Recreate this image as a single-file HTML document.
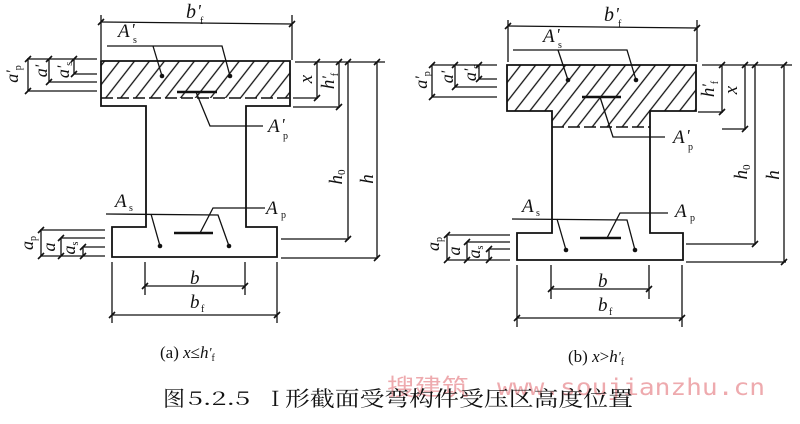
<!DOCTYPE html>
<html><head><meta charset="utf-8"><style>
html,body{margin:0;padding:0;background:#fff;}
svg{display:block;}
text{font-family:"Liberation Serif","Noto Serif CJK SC",serif;fill:#111;}
.i{font-style:italic;}
</style></head><body>
<svg width="800" height="424" viewBox="0 0 800 424" xmlns="http://www.w3.org/2000/svg">
<defs>
<pattern id="h" patternUnits="userSpaceOnUse" width="11.8" height="11.8" patternTransform="rotate(38)">
<line x1="2" y1="0" x2="2" y2="11.8" stroke="#111" stroke-width="1.3"/>
</pattern>
</defs>

<!-- ============ (a) ============ -->
<rect x="101" y="61" width="189" height="37" fill="url(#h)"/>
<line x1="101" y1="98" x2="290" y2="98" stroke="#111" stroke-width="1.4" stroke-dasharray="12,4"/>
<path d="M101,61 H290 V106 H246 V227 H277 V257 H112 V227 H146 V106 H101 Z" fill="none" stroke="#111" stroke-width="1.8"/>

<g stroke="#111" stroke-width="1.3" fill="none">
<polyline points="107,46 222,46 230,76"/>
<line x1="153" y1="46" x2="162" y2="76"/>
<polyline points="196,92 210,126 263,126"/>
<polyline points="106,214 218,215 229,246"/>
<line x1="151" y1="214" x2="160" y2="246"/>
<polyline points="200,233 213,208 265,208"/>
<line x1="101" y1="15" x2="101" y2="60"/>
<line x1="292" y1="15" x2="292" y2="60"/>
<line x1="101" y1="22" x2="292" y2="24"/>
<line x1="27" y1="59" x2="97" y2="59"/>
<line x1="74" y1="74" x2="97" y2="74"/>
<line x1="49" y1="82" x2="97" y2="82"/>
<line x1="27" y1="91" x2="97" y2="91"/>
<line x1="28" y1="59" x2="28" y2="91"/>
<line x1="49" y1="59" x2="49" y2="82"/>
<line x1="74" y1="59" x2="74" y2="74"/>
<line x1="295" y1="62" x2="385" y2="62"/>
<line x1="293" y1="98" x2="318" y2="98"/>
<line x1="293" y1="107" x2="340" y2="107"/>
<line x1="281" y1="239" x2="349" y2="239"/>
<line x1="281" y1="258" x2="378" y2="258"/>
<line x1="317" y1="62" x2="317" y2="98"/>
<line x1="339" y1="62" x2="339" y2="107"/>
<line x1="348" y1="62" x2="348" y2="239"/>
<line x1="377" y1="62" x2="377" y2="258"/>
<line x1="40" y1="230" x2="105" y2="230"/>
<line x1="61" y1="238" x2="105" y2="238"/>
<line x1="83" y1="247" x2="105" y2="247"/>
<line x1="40" y1="256" x2="105" y2="256"/>
<line x1="41" y1="230" x2="41" y2="256"/>
<line x1="61" y1="238" x2="61" y2="256"/>
<line x1="83" y1="247" x2="83" y2="256"/>
<line x1="145" y1="262" x2="145" y2="295"/>
<line x1="245" y1="262" x2="245" y2="295"/>
<line x1="145" y1="286" x2="245" y2="286"/>
<line x1="112" y1="262" x2="112" y2="323"/>
<line x1="277" y1="262" x2="277" y2="323"/>
<line x1="112" y1="315" x2="277" y2="315"/>
<path d="M98,25 l6,-6 M289,27 l6,-6
M25,62 l6,-6 M25,94 l6,-6 M46,62 l6,-6 M46,85 l6,-6 M71,62 l6,-6 M71,77 l6,-6
M314,65 l6,-6 M314,101 l6,-6 M336,65 l6,-6 M336,110 l6,-6 M345,65 l6,-6 M345,242 l6,-6 M374,65 l6,-6 M374,261 l6,-6
M38,233 l6,-6 M38,259 l6,-6 M58,241 l6,-6 M58,259 l6,-6 M80,250 l6,-6 M80,259 l6,-6
M142,289 l6,-6 M242,289 l6,-6 M109,318 l6,-6 M274,318 l6,-6" stroke-width="1.6"/>
</g>
<g fill="#111">
<circle cx="162" cy="76" r="2.3"/><circle cx="230" cy="76" r="2.3"/>
<circle cx="160" cy="246" r="2.3"/><circle cx="229" cy="246" r="2.3"/>
</g>
<line x1="177" y1="92" x2="217" y2="92" stroke="#111" stroke-width="2.6"/>
<line x1="174" y1="233" x2="213" y2="233" stroke="#111" stroke-width="2.6"/>

<!-- labels (a) -->
<text class="i" x="186" y="18" font-size="20">b</text><text class="i" x="197" y="17" font-size="18">'</text><text x="200" y="24" font-size="10">f</text>
<text class="i" x="118" y="37" font-size="19">A</text><text class="i" x="131" y="35" font-size="17">'</text><text x="133" y="43" font-size="10">s</text>
<text class="i" x="268" y="132" font-size="19">A</text><text class="i" x="281" y="130" font-size="17">'</text><text x="283" y="139" font-size="10">p</text>
<text class="i" x="115" y="207" font-size="19">A</text><text x="129" y="211" font-size="10">s</text>
<text class="i" x="266" y="214" font-size="19">A</text><text x="281" y="218" font-size="10">p</text>
<text class="i" x="190" y="284" font-size="19">b</text>
<text class="i" x="190" y="308" font-size="19">b</text><text x="201" y="312" font-size="10">f</text>

<g transform="translate(307,79) rotate(-90)"><text class="i" text-anchor="middle" y="5" font-size="19">x</text></g>
<g transform="translate(328,81) rotate(-90)"><text text-anchor="middle" y="6" font-size="19"><tspan class="i">h</tspan><tspan class="i" font-size="16" dy="-1">'</tspan><tspan font-size="10" dy="5">f</tspan></text></g>
<g transform="translate(336,177) rotate(-90)"><text text-anchor="middle" y="6" font-size="19"><tspan class="i">h</tspan><tspan font-size="11" dy="3">0</tspan></text></g>
<g transform="translate(367,179) rotate(-90)"><text class="i" text-anchor="middle" y="6" font-size="19">h</text></g>
<g transform="translate(13,74) rotate(-90)"><text text-anchor="middle" y="5" font-size="18"><tspan class="i">a</tspan><tspan class="i" font-size="16" dy="-1">'</tspan><tspan font-size="10" dy="4">p</tspan></text></g>
<g transform="translate(42,71) rotate(-90)"><text text-anchor="middle" y="5" font-size="18"><tspan class="i">a</tspan><tspan class="i" font-size="16" dy="-1">'</tspan></text></g>
<g transform="translate(64,70) rotate(-90)"><text text-anchor="middle" y="5" font-size="18"><tspan class="i">a</tspan><tspan class="i" font-size="16" dy="-1">'</tspan><tspan font-size="10" dy="4">s</tspan></text></g>
<g transform="translate(28,243) rotate(-90)"><text text-anchor="middle" y="5" font-size="18"><tspan class="i">a</tspan><tspan font-size="10" dy="3">p</tspan></text></g>
<g transform="translate(50,247) rotate(-90)"><text class="i" text-anchor="middle" y="5" font-size="18">a</text></g>
<g transform="translate(70,248) rotate(-90)"><text text-anchor="middle" y="5" font-size="18"><tspan class="i">a</tspan><tspan font-size="10" dy="3">s</tspan></text></g>

<!-- ============ (b) ============ -->
<polygon points="507,65 696,65 696,111 650,111 650,127 552,127 552,111 507,111" fill="url(#h)"/>
<line x1="552" y1="127" x2="650" y2="127" stroke="#111" stroke-width="1.4" stroke-dasharray="12,4"/>
<path d="M507,65 H696 V111 H650 V233 H683 V260 H517 V233 H552 V111 H507 Z" fill="none" stroke="#111" stroke-width="1.8"/>

<g stroke="#111" stroke-width="1.3" fill="none">
<polyline points="513,50 627,50 636,80"/>
<line x1="558" y1="50" x2="568" y2="80"/>
<polyline points="600,97 613,137 665,137"/>
<polyline points="512,219 627,220 635,250"/>
<line x1="557" y1="219" x2="566" y2="250"/>
<polyline points="607,238 620,213 668,213"/>
<line x1="508" y1="20" x2="508" y2="62"/>
<line x1="697" y1="20" x2="697" y2="62"/>
<line x1="508" y1="26" x2="697" y2="28"/>
<line x1="432" y1="65" x2="497" y2="65"/>
<line x1="479" y1="79" x2="497" y2="79"/>
<line x1="455" y1="87" x2="497" y2="87"/>
<line x1="432" y1="97" x2="497" y2="97"/>
<line x1="432" y1="65" x2="432" y2="97"/>
<line x1="455" y1="65" x2="455" y2="87"/>
<line x1="479" y1="65" x2="479" y2="79"/>
<line x1="702" y1="65" x2="792" y2="65"/>
<line x1="698" y1="112" x2="723" y2="112"/>
<line x1="722" y1="129" x2="746" y2="129"/>
<line x1="686" y1="244" x2="756" y2="244"/>
<line x1="686" y1="262" x2="786" y2="262"/>
<line x1="722" y1="65" x2="722" y2="112"/>
<line x1="745" y1="65" x2="745" y2="129"/>
<line x1="755" y1="65" x2="755" y2="244"/>
<line x1="784" y1="65" x2="784" y2="262"/>
<line x1="447" y1="235" x2="510" y2="235"/>
<line x1="467" y1="242" x2="510" y2="242"/>
<line x1="489" y1="249" x2="510" y2="249"/>
<line x1="447" y1="260" x2="510" y2="260"/>
<line x1="447" y1="235" x2="447" y2="260"/>
<line x1="467" y1="242" x2="467" y2="260"/>
<line x1="489" y1="249" x2="489" y2="260"/>
<line x1="551" y1="265" x2="551" y2="299"/>
<line x1="649" y1="265" x2="649" y2="299"/>
<line x1="551" y1="289" x2="649" y2="289"/>
<line x1="517" y1="265" x2="517" y2="327"/>
<line x1="682" y1="265" x2="682" y2="327"/>
<line x1="517" y1="318" x2="682" y2="318"/>
<path d="M505,29 l6,-6 M694,31 l6,-6
M429,68 l6,-6 M429,100 l6,-6 M452,68 l6,-6 M452,90 l6,-6 M476,68 l6,-6 M476,82 l6,-6
M719,68 l6,-6 M719,115 l6,-6 M742,68 l6,-6 M742,132 l6,-6 M752,68 l6,-6 M752,247 l6,-6 M781,68 l6,-6 M781,265 l6,-6
M444,238 l6,-6 M444,263 l6,-6 M464,245 l6,-6 M464,263 l6,-6 M486,252 l6,-6 M486,263 l6,-6
M548,292 l6,-6 M646,292 l6,-6 M514,321 l6,-6 M679,321 l6,-6" stroke-width="1.6"/>
</g>
<g fill="#111">
<circle cx="568" cy="80" r="2.3"/><circle cx="636" cy="80" r="2.3"/>
<circle cx="566" cy="250" r="2.3"/><circle cx="635" cy="250" r="2.3"/>
</g>
<line x1="582" y1="97" x2="621" y2="97" stroke="#111" stroke-width="2.6"/>
<line x1="580" y1="238" x2="621" y2="238" stroke="#111" stroke-width="2.6"/>

<!-- labels (b) -->
<text class="i" x="604" y="21" font-size="20">b</text><text class="i" x="615" y="20" font-size="18">'</text><text x="618" y="27" font-size="10">f</text>
<text class="i" x="543" y="42" font-size="19">A</text><text class="i" x="556" y="40" font-size="17">'</text><text x="558" y="48" font-size="10">s</text>
<text class="i" x="673" y="143" font-size="19">A</text><text class="i" x="686" y="141" font-size="17">'</text><text x="688" y="150" font-size="10">p</text>
<text class="i" x="522" y="212" font-size="19">A</text><text x="536" y="216" font-size="10">s</text>
<text class="i" x="675" y="217" font-size="19">A</text><text x="690" y="221" font-size="10">p</text>
<text class="i" x="598" y="287" font-size="19">b</text>
<text class="i" x="598" y="311" font-size="19">b</text><text x="609" y="315" font-size="10">f</text>

<g transform="translate(708,89) rotate(-90)"><text text-anchor="middle" y="6" font-size="19"><tspan class="i">h</tspan><tspan class="i" font-size="16" dy="-1">'</tspan><tspan font-size="10" dy="5">f</tspan></text></g>
<g transform="translate(732,90) rotate(-90)"><text class="i" text-anchor="middle" y="5" font-size="19">x</text></g>
<g transform="translate(741,172) rotate(-90)"><text text-anchor="middle" y="6" font-size="19"><tspan class="i">h</tspan><tspan font-size="11" dy="3">0</tspan></text></g>
<g transform="translate(773,175) rotate(-90)"><text class="i" text-anchor="middle" y="6" font-size="19">h</text></g>
<g transform="translate(422,80) rotate(-90)"><text text-anchor="middle" y="5" font-size="18"><tspan class="i">a</tspan><tspan class="i" font-size="16" dy="-1">'</tspan><tspan font-size="10" dy="4">p</tspan></text></g>
<g transform="translate(448,77) rotate(-90)"><text text-anchor="middle" y="5" font-size="18"><tspan class="i">a</tspan><tspan class="i" font-size="16" dy="-1">'</tspan></text></g>
<g transform="translate(471,73) rotate(-90)"><text text-anchor="middle" y="5" font-size="18"><tspan class="i">a</tspan><tspan class="i" font-size="16" dy="-1">'</tspan><tspan font-size="10" dy="4">s</tspan></text></g>
<g transform="translate(434,244) rotate(-90)"><text text-anchor="middle" y="5" font-size="18"><tspan class="i">a</tspan><tspan font-size="10" dy="3">p</tspan></text></g>
<g transform="translate(455,251) rotate(-90)"><text class="i" text-anchor="middle" y="5" font-size="18">a</text></g>
<g transform="translate(475,252) rotate(-90)"><text text-anchor="middle" y="5" font-size="18"><tspan class="i">a</tspan><tspan font-size="10" dy="3">s</tspan></text></g>

<!-- captions -->
<text x="160" y="358" font-size="17">(a) <tspan class="i">x</tspan>≤<tspan class="i">h</tspan><tspan class="i" font-size="14" dy="-1">'</tspan><tspan font-size="10" dy="4">f</tspan></text>
<text x="568" y="362" font-size="17">(b) <tspan class="i">x</tspan>&gt;<tspan class="i">h</tspan><tspan class="i" font-size="14" dy="-1">'</tspan><tspan font-size="10" dy="4">f</tspan></text>

<!-- watermark -->
<text x="387" y="395" font-size="23" style="fill:#eeaaae;font-family:'Noto Sans CJK SC',sans-serif" textLength="82" lengthAdjust="spacingAndGlyphs">搜建筑</text>
<text x="497" y="395" font-size="23" style="fill:#eeaaae;font-family:'DejaVu Sans Mono','Liberation Mono',monospace" textLength="268" lengthAdjust="spacingAndGlyphs">www.soujianzhu.cn</text>

<!-- title -->
<text x="163" y="406" font-size="21" style="font-family:'Noto Serif CJK SC',serif" textLength="22" lengthAdjust="spacingAndGlyphs">图</text>
<text x="188" y="405" font-size="19" style="font-family:'Noto Serif CJK SC',serif" textLength="62" lengthAdjust="spacingAndGlyphs">5.2.5</text>
<text x="271" y="406" font-size="21" style="font-family:'Noto Serif CJK SC',serif">I</text>
<text x="285" y="406" font-size="21" style="font-family:'Noto Serif CJK SC',serif" textLength="348" lengthAdjust="spacingAndGlyphs">形截面受弯构件受压区高度位置</text>
</svg>
</body></html>
